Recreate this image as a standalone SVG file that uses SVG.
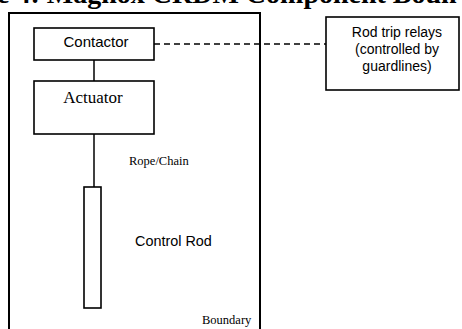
<svg xmlns="http://www.w3.org/2000/svg" width="462" height="329" viewBox="0 0 462 329">
<style>
.box{fill:#fff;stroke:#000;stroke-width:1.6}
.sans{font-family:"Liberation Sans",Arial,sans-serif;fill:#000}
.serif{font-family:"Liberation Serif","Times New Roman",serif;fill:#000}
.ln{stroke:#000;stroke-width:1.5;fill:none}
</style>
<rect width="462" height="329" fill="#fff"/>
<text class="serif" x="-3" y="3" font-size="28" font-weight="bold">e 4: Magnox CRDM Component Boun</text>
<g id="boundary">
<rect x="9" y="13" width="251" height="330" fill="none" stroke="#000" stroke-width="2"/>
<text class="serif" x="202" y="324" font-size="12.5">Boundary</text>
</g>
<g id="connectors">
<line class="ln" x1="94" y1="60" x2="94" y2="81"/>
<line class="ln" x1="94" y1="134" x2="94" y2="187"/>
<line class="ln" x1="154" y1="44" x2="326" y2="44" stroke-dasharray="6,4"/>
<text class="serif" x="129" y="165" font-size="12.5">Rope/Chain</text>
</g>
<g id="contactor">
<rect class="box" x="34" y="28" width="120" height="32"/>
<text class="sans" x="96" y="47" font-size="15" text-anchor="middle">Contactor</text>
</g>
<g id="actuator">
<rect class="box" x="34" y="81" width="120" height="53"/>
<text class="serif" x="93" y="103" font-size="17" text-anchor="middle">Actuator</text>
</g>
<g id="control-rod">
<rect class="box" x="84" y="187" width="17" height="121"/>
<text class="sans" x="135" y="246" font-size="14.4">Control Rod</text>
</g>
<g id="relays">
<rect class="box" x="326" y="17" width="133" height="73" stroke-width="2"/>
<text class="sans" font-size="14" text-anchor="middle"><tspan x="397" y="37">Rod trip relays</tspan><tspan x="397" y="54">(controlled by</tspan><tspan x="397" y="71">guardlines)</tspan></text>
</g>
</svg>
